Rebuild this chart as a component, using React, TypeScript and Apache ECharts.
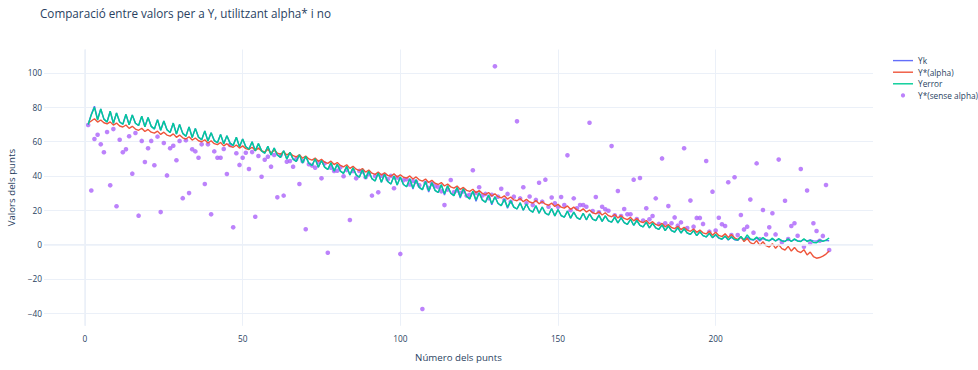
import { useEffect, useRef } from "react";
import * as echarts from "echarts";

const TITLE = "Comparació entre valors per a Y, utilitzant alpha* i no";
const X_TITLE = "Número dels punts";
const Y_TITLE = "Valors dels punts";
const SERIES_NAMES = ["Yk", "Y*(alpha)", "Yerror", "Y*(sense alpha)"];

const yk = [
  70.0, 76.0, 80.6, 73.0, 79.0, 73.1, 71.4, 77.7, 70.7, 76.7,
  71.4, 70.1, 75.9, 69.8, 75.5, 70.7, 69.4, 74.8, 68.7, 74.1,
  68.9, 67.4, 72.8, 66.6, 72.0, 66.9, 65.3, 70.8, 64.4, 70.0,
  64.8, 63.1, 68.6, 62.4, 67.7, 62.6, 61.1, 66.2, 60.3, 65.2,
  60.6, 59.3, 64.2, 58.7, 63.4, 59.1, 57.8, 62.5, 57.0, 61.5,
  57.0, 55.6, 59.9, 54.6, 58.9, 54.6, 53.2, 57.3, 52.2, 56.3,
  52.2, 50.8, 54.7, 49.8, 53.7, 49.8, 48.4, 52.3, 47.5, 51.4,
  47.4, 46.1, 50.0, 45.1, 49.0, 45.1, 43.7, 47.6, 42.8, 46.7,
  42.8, 41.5, 45.6, 40.5, 44.8, 40.6, 39.2, 43.6, 38.4, 42.8,
  38.4, 37.0, 41.7, 36.3, 41.0, 36.7, 35.3, 40.0, 34.7, 39.3,
  35.0, 33.7, 38.3, 32.3, 37.7, 33.3, 32.0, 36.7, 30.6, 36.0,
  31.6, 30.3, 34.9, 28.9, 34.2, 29.9, 28.5, 33.2, 27.1, 32.5,
  28.1, 26.6, 31.1, 25.2, 30.2, 26.0, 24.6, 28.8, 23.2, 27.8,
  23.9, 22.7, 26.4, 21.2, 25.4, 21.8, 20.7, 24.3, 20.0, 23.6,
  20.1, 18.9, 22.6, 18.2, 21.9, 18.3, 17.2, 20.9, 16.7, 20.4,
  16.9, 15.9, 19.5, 15.4, 18.9, 15.7, 14.7, 18.2, 14.4, 17.8,
  14.8, 13.9, 17.1, 13.5, 16.7, 13.8, 13.0, 16.0, 12.6, 15.6,
  12.7, 11.8, 14.7, 11.2, 14.0, 11.2, 10.3, 13.0, 9.7, 12.4,
  9.7, 8.8, 11.4, 8.1, 10.8, 8.1, 7.3, 9.8, 6.7, 9.2,
  6.7, 5.9, 8.1, 5.2, 7.4, 5.2, 4.4, 6.5, 4.0, 5.6,
  3.7, 3.0, 4.8, 2.6, 4.3, 2.8, 2.4, 4.2, 2.5, 4.3,
  2.9, 2.6, 3.7, 2.5, 3.5, 2.6, 2.2, 3.2, 2.1, 3.0,
  2.2, 2.0, 2.9, 2.0, 2.8, 2.2, 2.0, 2.8, 2.1, 2.7,
  2.1, 2.0, 2.6, 2.1, 2.4, 2.2,
];

const yAlpha = [
  70.8, 72.0, 73.3, 71.4, 72.6, 71.0, 70.3, 71.5, 69.6, 70.8,
  69.1, 68.5, 69.7, 67.7, 68.9, 67.3, 66.6, 67.8, 65.9, 67.1,
  65.5, 64.9, 66.1, 64.2, 65.5, 63.8, 63.2, 64.5, 62.5, 63.8,
  62.2, 61.5, 62.8, 60.9, 62.1, 60.5, 59.9, 61.1, 59.2, 60.5,
  58.8, 58.2, 59.5, 57.5, 58.8, 57.2, 56.7, 58.0, 56.2, 57.5,
  55.9, 55.4, 56.7, 54.8, 56.2, 54.6, 54.0, 55.4, 53.5, 54.9,
  53.3, 52.7, 54.1, 52.2, 53.4, 51.8, 51.1, 52.3, 50.3, 51.6,
  49.9, 49.2, 50.4, 48.5, 49.7, 48.0, 47.3, 48.6, 46.6, 47.8,
  46.1, 45.3, 46.5, 44.4, 45.6, 43.9, 43.1, 44.3, 42.2, 43.4,
  41.6, 40.9, 42.3, 40.5, 41.8, 40.3, 39.8, 41.2, 39.3, 40.7,
  39.2, 38.7, 40.0, 38.2, 39.4, 37.7, 37.0, 38.2, 36.2, 37.4,
  35.7, 35.0, 36.1, 34.1, 35.3, 33.6, 32.9, 34.1, 32.1, 33.3,
  31.6, 31.0, 32.2, 30.2, 31.4, 29.8, 29.1, 30.3, 28.3, 29.6,
  27.9, 27.2, 28.4, 26.5, 27.7, 26.0, 25.5, 26.8, 25.0, 26.3,
  24.8, 24.2, 25.6, 23.7, 25.1, 23.5, 22.9, 24.1, 22.2, 23.5,
  21.8, 21.2, 22.5, 20.5, 21.8, 20.2, 19.5, 20.8, 18.9, 20.1,
  18.5, 17.9, 19.1, 17.2, 18.5, 16.8, 16.2, 17.5, 15.5, 16.8,
  15.2, 14.5, 15.8, 13.8, 15.1, 13.4, 12.8, 14.0, 12.1, 13.3,
  11.7, 11.0, 12.3, 10.3, 11.6, 9.9, 9.3, 10.6, 8.7, 10.0,
  8.4, 7.7, 9.0, 7.1, 8.4, 6.8, 6.2, 7.7, 5.4, 7.2,
  5.3, 4.6, 6.3, 4.1, 5.8, 3.9, 2.8, 4.6, 1.7, 3.5,
  1.1, 0.2, 2.3, -0.5, 1.6, -0.7, -1.5, 0.5, -2.2, -0.1,
  -2.4, -3.2, -1.1, -3.8, -1.7, -3.9, -4.7, -3.0, -6.1, -4.4,
  -7.0, -8.0, -7.6, -6.8, -5.6, -3.8,
];

const yError = [
  70.0, 75.5, 80.0, 72.6, 79.0, 73.1, 71.4, 77.7, 70.7, 76.7,
  71.4, 70.1, 75.9, 69.8, 75.5, 70.7, 69.4, 74.8, 68.7, 74.1,
  68.9, 67.4, 72.8, 66.6, 72.0, 66.9, 65.3, 70.8, 64.4, 70.0,
  64.8, 63.1, 68.6, 62.4, 67.7, 62.6, 61.1, 66.2, 60.3, 65.2,
  60.6, 59.3, 64.2, 58.7, 63.4, 59.1, 57.8, 62.5, 57.0, 61.5,
  57.0, 55.6, 59.9, 54.6, 58.9, 54.6, 53.2, 57.3, 52.2, 56.3,
  52.2, 50.8, 54.7, 49.8, 53.7, 49.8, 48.4, 52.3, 47.5, 51.4,
  47.4, 46.1, 50.0, 45.1, 49.0, 45.1, 43.7, 47.6, 42.8, 46.7,
  42.8, 41.5, 45.6, 40.5, 44.8, 40.6, 39.2, 43.6, 38.4, 42.8,
  38.4, 37.0, 41.7, 36.3, 41.0, 36.7, 35.3, 40.0, 34.7, 39.3,
  35.0, 33.7, 38.3, 33.0, 37.7, 33.3, 32.0, 36.7, 31.3, 36.0,
  31.6, 30.3, 34.9, 29.6, 34.2, 29.9, 28.5, 33.2, 27.8, 32.5,
  28.1, 26.6, 31.1, 25.9, 30.2, 26.0, 24.6, 28.8, 23.9, 27.8,
  23.9, 22.7, 26.4, 21.8, 25.4, 21.8, 20.7, 24.3, 20.0, 23.6,
  20.1, 18.9, 22.6, 18.2, 21.9, 18.3, 17.2, 20.9, 16.7, 20.4,
  16.9, 15.9, 19.5, 15.4, 18.9, 15.7, 14.7, 18.2, 14.4, 17.8,
  14.8, 13.9, 17.1, 13.5, 16.7, 13.8, 13.0, 16.0, 12.6, 15.6,
  12.7, 11.8, 14.7, 11.2, 14.0, 11.2, 10.3, 13.0, 9.7, 12.4,
  9.7, 8.8, 11.4, 8.1, 10.8, 8.1, 7.3, 9.8, 6.7, 9.2,
  6.7, 5.9, 8.1, 5.2, 7.4, 5.2, 4.4, 6.5, 4.0, 5.9,
  3.9, 3.2, 5.0, 2.8, 4.5, 3.0, 2.6, 4.7, 2.7, 5.6,
  3.2, 2.8, 4.3, 2.6, 4.1, 2.7, 2.2, 3.7, 2.0, 3.5,
  2.1, 1.7, 3.3, 1.7, 3.3, 2.0, 1.7, 3.3, 1.7, 2.6,
  1.2, 1.0, 2.4, 1.8, 2.6, 3.8,
];

const ySenseAlpha = [
  69.7, 31.5, 61.5, 64.0, 58.4, 53.8, 65.6, 34.5, 67.3, 22.3,
  61.1, 53.8, 55.5, 63.1, 41.3, 65.0, 16.8, 60.4, 48.1, 56.1,
  60.4, 46.2, 62.9, 18.9, 59.2, 40.3, 56.1, 57.6, 49.1, 60.4,
  27.0, 60.8, 30.0, 55.5, 54.3, 50.6, 58.4, 35.3, 58.4, 17.6,
  54.3, 50.6, 50.6, 55.7, 41.1, 58.0, 10.0, 53.2, 46.4, 50.6,
  53.5, 44.0, 53.9, 16.2, 51.6, 39.5, 49.4, 51.2, 45.4, 52.2,
  27.5, 52.0, 28.5, 48.3, 48.7, 45.4, 49.9, 35.3, 48.7, 8.9,
  46.8, 46.0, 44.8, 48.0, 38.6, 47.3, -4.8, 44.8, 42.9, 43.0,
  45.0, 39.8, 43.4, 14.3, 42.9, 38.6, 42.9, 42.5, 39.2, 41.0,
  28.5, 40.0, 30.4, 40.1, 40.5, 38.0, 40.0, 32.8, 39.0, -5.5,
  37.5, 38.0, 35.0, 37.0, 36.5, 34.5, -37.6, 36.0, 33.0, 35.5,
  34.0, 33.5, 31.0, 23.0, 32.0, 37.6, 30.5, 31.5, 30.0, 31.0,
  28.5, 29.0, 43.3, 30.0, 33.4, 28.5, 29.5, 27.0, 29.0, 103.9,
  27.9, 32.5, 26.0, 29.5, 25.0, 27.9, 71.8, 26.9, 33.4, 24.0,
  28.0, 23.0, 26.0, 36.0, 25.0, 37.8, 22.0, 27.4, 24.0, 22.0,
  27.7, 23.0, 52.0, 20.0, 26.9, 21.1, 23.0, 23.0, 22.0, 71.0,
  19.5, 27.7, 18.8, 22.0, 20.5, 19.7, 57.4, 17.0, 31.2, 16.6,
  20.7, 17.6, 17.6, 37.8, 14.9, 38.8, 14.0, 21.1, 14.7, 16.6,
  26.9, 12.0, 50.2, 12.4, 22.4, 12.4, 15.8, 11.0, 12.9, 56.1,
  9.6, 25.6, 10.4, 15.5, 15.5, 12.0, 48.7, 7.5, 30.8, 8.1,
  15.6, 11.8, 10.8, 36.3, 5.5, 39.2, 5.5, 17.2, 8.8, 10.4,
  26.2, 6.9, 47.3, 3.0, 20.1, 5.9, 10.0, 18.2, 5.9, 49.5,
  1.3, 25.5, 3.2, 10.8, 12.4, 5.1, 44.0, -1.3, 31.5, 0.7,
  12.4, 7.9, 2.2, 5.0, 34.7, -3.2,
];

const X_MIN = -13;
const X_MAX = 249.9;
const Y_MIN = -47.4;
const Y_MAX = 113.7;

const pointNumbers = yk.map((_, k) => k + 1);
const toPairs = (vals: number[]) => vals.map((v, k) => [pointNumbers[k], v]);

const FONT = "'Open Sans', verdana, arial, sans-serif";
const TEXT = "#2a3f5f";
const GRID = "#EBF0F8";
const COLORS = ["#636efa", "#EF553B", "#00cc96", "#ab63fa"];
const LINE_ICON = "path://M0,0 L20,0 L20,1.4 L0,1.4 Z";

const minus = (v: number) => String(v).replace("-", "\u2212");

export default function App() {
  const ref = useRef<HTMLDivElement>(null);
  useEffect(() => {
    if (!ref.current) return;
    const chart = echarts.init(ref.current, null, { renderer: "svg" });
    const axisCommon = {
      type: "value" as const,
      axisLine: { show: false },
      axisTick: { show: false },
      nameLocation: "middle" as const,
      nameTextStyle: { fontSize: 9.7, color: TEXT, fontFamily: FONT },
      splitLine: {
        show: true,
        showMinLine: false,
        showMaxLine: false,
        lineStyle: { color: GRID, width: 1 },
      },
    };
    const labelCommon = {
      color: TEXT,
      fontSize: 8.3,
      fontFamily: FONT,
      showMinLabel: false,
      showMaxLabel: false,
      formatter: (v: number) => minus(v),
    };
    chart.setOption({
      animation: false,
      textStyle: { fontFamily: FONT },
      title: {
        text: TITLE,
        left: 40,
        top: 7,
        padding: 0,
        textStyle: { fontSize: 11.7, fontWeight: "normal", color: TEXT, fontFamily: FONT },
      },
      legend: {
        orient: "vertical",
        left: 893,
        top: 56.6,
        padding: 0,
        itemWidth: 20,
        itemHeight: 4.2,
        itemGap: 3.6,
        textStyle: { fontSize: 8.3, color: TEXT, fontFamily: FONT },
        data: SERIES_NAMES.map((n, k) =>
          k === 3 ? { name: n, icon: "circle" } : { name: n, icon: LINE_ICON }
        ),
      },
      grid: {
        left: 44,
        top: 49.5,
        width: 829,
        height: 276.3,
        containLabel: false,
        outerBoundsMode: "none",
      },
      xAxis: {
        ...axisCommon,
        min: X_MIN,
        max: X_MAX,
        splitNumber: 5,
        minInterval: 50,
        maxInterval: 50,
        name: X_TITLE,
        nameGap: 27,
        axisLabel: { ...labelCommon, margin: 9 },
      },
      yAxis: {
        ...axisCommon,
        min: Y_MIN,
        max: Y_MAX,
        splitNumber: 8,
        minInterval: 20,
        maxInterval: 20,
        name: Y_TITLE,
        nameGap: 20,
        axisLabel: { ...labelCommon, margin: 2 },
      },
      series: [
        {
          name: SERIES_NAMES[0],
          type: "line",
          data: toPairs(yk),
          symbol: "none",
          lineStyle: { color: COLORS[0], width: 1.4 },
          itemStyle: { color: COLORS[0] },
          markLine: {
            silent: true,
            symbol: ["none", "none"],
            label: { show: false },
            lineStyle: { color: GRID, width: 1.6, type: "solid" },
            data: [{ yAxis: 0 }, { xAxis: 0 }],
          },
        },
        {
          name: SERIES_NAMES[1],
          type: "line",
          data: toPairs(yAlpha),
          symbol: "none",
          lineStyle: { color: COLORS[1], width: 1.4 },
          itemStyle: { color: COLORS[1] },
        },
        {
          name: SERIES_NAMES[2],
          type: "line",
          data: toPairs(yError),
          symbol: "none",
          lineStyle: { color: COLORS[2], width: 1.4 },
          itemStyle: { color: COLORS[2] },
        },
        {
          name: SERIES_NAMES[3],
          type: "scatter",
          data: toPairs(ySenseAlpha),
          symbolSize: 4.6,
          itemStyle: { color: COLORS[3] },
        },
      ],
    });
    return () => chart.dispose();
  }, []);
  return (
    <div
      ref={ref}
      style={{ position: "absolute", left: 0, top: 0, width: 978, height: 370, background: "#fff" }}
    />
  );
}
